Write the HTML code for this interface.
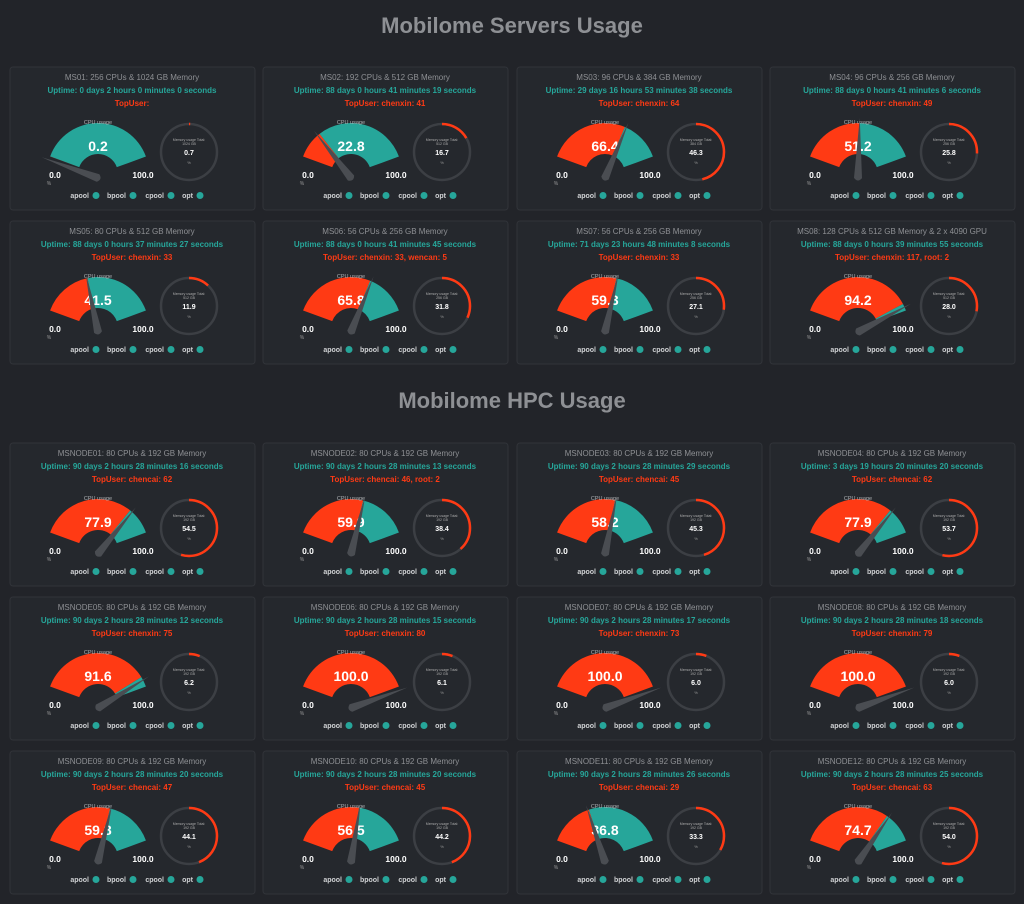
<!DOCTYPE html>
<html><head><meta charset="utf-8"><style>
html,body{margin:0;padding:0;background:#222429;}
body{width:1024px;height:904px;overflow:hidden;position:relative;font-family:"Liberation Sans",sans-serif;}
.h{position:absolute;left:0;width:1024px;text-align:center;color:#8e9094;font-weight:bold;font-size:22px;}
svg{position:absolute;left:0;top:0;}
</style></head><body>
<div class="h" style="top:13px">Mobilome Servers Usage</div>
<div class="h" style="top:388px">Mobilome HPC Usage</div>
<svg id="s" width="1024" height="904" xmlns="http://www.w3.org/2000/svg" font-family="Liberation Sans, sans-serif"></svg>
<script>
var D=[
["MS01: 256 CPUs &amp; 1024 GB Memory","Uptime: 0 days 2 hours 0 minutes 0 seconds","TopUser:",0.2,0.7,"1024 GB"],
["MS02: 192 CPUs &amp; 512 GB Memory","Uptime: 88 days 0 hours 41 minutes 19 seconds","TopUser: chenxin: 41",22.8,16.7,"512 GB"],
["MS03: 96 CPUs &amp; 384 GB Memory","Uptime: 29 days 16 hours 53 minutes 38 seconds","TopUser: chenxin: 64",66.4,46.3,"384 GB"],
["MS04: 96 CPUs &amp; 256 GB Memory","Uptime: 88 days 0 hours 41 minutes 6 seconds","TopUser: chenxin: 49",51.2,25.8,"256 GB"],
["MS05: 80 CPUs &amp; 512 GB Memory","Uptime: 88 days 0 hours 37 minutes 27 seconds","TopUser: chenxin: 33",41.5,11.9,"512 GB"],
["MS06: 56 CPUs &amp; 256 GB Memory","Uptime: 88 days 0 hours 41 minutes 45 seconds","TopUser: chenxin: 33, wencan: 5",65.8,31.8,"256 GB"],
["MS07: 56 CPUs &amp; 256 GB Memory","Uptime: 71 days 23 hours 48 minutes 8 seconds","TopUser: chenxin: 33",59.3,27.1,"256 GB"],
["MS08: 128 CPUs &amp; 512 GB Memory &amp; 2 x 4090 GPU","Uptime: 88 days 0 hours 39 minutes 55 seconds","TopUser: chenxin: 117, root: 2",94.2,28.0,"512 GB"],
["MSNODE01: 80 CPUs &amp; 192 GB Memory","Uptime: 90 days 2 hours 28 minutes 16 seconds","TopUser: chencai: 62",77.9,54.5,"192 GB"],
["MSNODE02: 80 CPUs &amp; 192 GB Memory","Uptime: 90 days 2 hours 28 minutes 13 seconds","TopUser: chencai: 46, root: 2",59.9,38.4,"192 GB"],
["MSNODE03: 80 CPUs &amp; 192 GB Memory","Uptime: 90 days 2 hours 28 minutes 29 seconds","TopUser: chencai: 45",58.2,45.3,"192 GB"],
["MSNODE04: 80 CPUs &amp; 192 GB Memory","Uptime: 3 days 19 hours 20 minutes 20 seconds","TopUser: chencai: 62",77.9,53.7,"192 GB"],
["MSNODE05: 80 CPUs &amp; 192 GB Memory","Uptime: 90 days 2 hours 28 minutes 12 seconds","TopUser: chenxin: 75",91.6,6.2,"192 GB"],
["MSNODE06: 80 CPUs &amp; 192 GB Memory","Uptime: 90 days 2 hours 28 minutes 15 seconds","TopUser: chenxin: 80",100.0,6.1,"192 GB"],
["MSNODE07: 80 CPUs &amp; 192 GB Memory","Uptime: 90 days 2 hours 28 minutes 17 seconds","TopUser: chenxin: 73",100.0,6.0,"192 GB"],
["MSNODE08: 80 CPUs &amp; 192 GB Memory","Uptime: 90 days 2 hours 28 minutes 18 seconds","TopUser: chenxin: 79",100.0,6.0,"192 GB"],
["MSNODE09: 80 CPUs &amp; 192 GB Memory","Uptime: 90 days 2 hours 28 minutes 20 seconds","TopUser: chencai: 47",59.8,44.1,"192 GB"],
["MSNODE10: 80 CPUs &amp; 192 GB Memory","Uptime: 90 days 2 hours 28 minutes 20 seconds","TopUser: chencai: 45",56.5,44.2,"192 GB"],
["MSNODE11: 80 CPUs &amp; 192 GB Memory","Uptime: 90 days 2 hours 28 minutes 26 seconds","TopUser: chencai: 29",36.8,33.3,"192 GB"],
["MSNODE12: 80 CPUs &amp; 192 GB Memory","Uptime: 90 days 2 hours 28 minutes 25 seconds","TopUser: chencai: 63",74.7,54.0,"192 GB"]];
var X=[10,263,517,770],Y=[67,221,443,597,751],T="#26a69a",R="#ff3a14";
var o="";
function P(cx,cy,r,a){a=a*Math.PI/180;return [cx+r*Math.cos(a),cy-r*Math.sin(a)];}
function sector(cx,cy,r1,r2,a1,a2,c){
 if(Math.abs(a1-a2)<0.01)return "";
 var p1=P(cx,cy,r2,a1),p2=P(cx,cy,r2,a2),p3=P(cx,cy,r1,a2),p4=P(cx,cy,r1,a1),l=(a1-a2)>180?1:0;
 return '<path fill="'+c+'" d="M'+p1+' A'+r2+','+r2+' 0 '+l+' 1 '+p2+' L'+p3+' A'+r1+','+r1+' 0 '+l+' 0 '+p4+' Z"/>';}
function t(x,y,s,sz,c,w){return '<text x="'+x+'" y="'+y+'" font-size="'+sz+'" fill="'+c+'" text-anchor="middle"'+(w?' font-weight="bold"':'')+'>'+s+'</text>';}
D.forEach(function(d,i){
 var x=X[i%4],y=Y[Math.floor(i/4)],cx=x+122;
 o+='<rect x="'+x+'" y="'+y+'" width="245" height="143" rx="3" fill="#25282d" stroke="#313439"/>';
 o+=t(cx,y+13,d[0],8,"#8e9094",0);
 o+=t(cx,y+26,d[1],8,T,1);
 o+=t(cx,y+39,d[2],8,R,1);
 var gx=x+88,gy=y+107,f=d[3]/100,a=160-140*f;
 o+=sector(gx,gy,20,51,160,a,R)+sector(gx,gy,20,51,a,20,T);
 o+=t(gx,y+57,"CPU usage",5.5,"#b0b2b5",0);
 o+=t(gx,y+84,d[3].toFixed(1),14,"#fff",1);
 var px=gx,py=gy+4;
 var tp=P(px,py,60,a),b1=P(px,py,4,a+90),b2=P(px,py,4,a-90),bb=P(px,py,5,a+180);
 o+='<path fill="#4a4d52" d="M'+tp+' L'+b1+' Q'+bb+' '+b2+' Z"/>';
 o+=t(x+45,y+111,"0.0",8.5,"#fff",1)+t(x+133,y+111,"100.0",8.5,"#fff",1)+t(x+39,y+118,"%",5,"#999",0);
 var mx=x+179,my=y+85,mr=28;
 o+='<circle cx="'+mx+'" cy="'+my+'" r="'+mr+'" fill="none" stroke="#3c3f44" stroke-width="2.5"/>';
 var mf=d[4]/100,C=2*Math.PI*mr;
 o+='<circle cx="'+mx+'" cy="'+my+'" r="'+mr+'" fill="none" stroke="'+R+'" stroke-width="2.5" stroke-dasharray="'+(C*mf)+' '+C+'" transform="rotate(-90 '+mx+' '+my+')"/>';
 o+=t(mx,my-11,"Memory usage Total:",3.5,"#aaa",0)+t(mx,my-7,d[5],3.5,"#aaa",0);
 o+=t(mx,my+3,d[4].toFixed(1),7,"#fff",1)+t(mx,my+12,"%",4,"#999",0);
 var lx=[x+86,x+123,x+161,x+190],ln=["apool","bpool","cpool","opt"];
 for(var k=0;k<4;k++){o+='<text x="'+(lx[k]-7)+'" y="'+(y+131)+'" font-size="7" fill="#d0d2d4" font-weight="bold" text-anchor="end">'+ln[k]+'</text>';
  o+='<circle cx="'+(lx[k])+'" cy="'+(y+128.5)+'" r="3.5" fill="'+T+'"/>';}
});
document.getElementById("s").innerHTML=o;
</script>
</body></html>
